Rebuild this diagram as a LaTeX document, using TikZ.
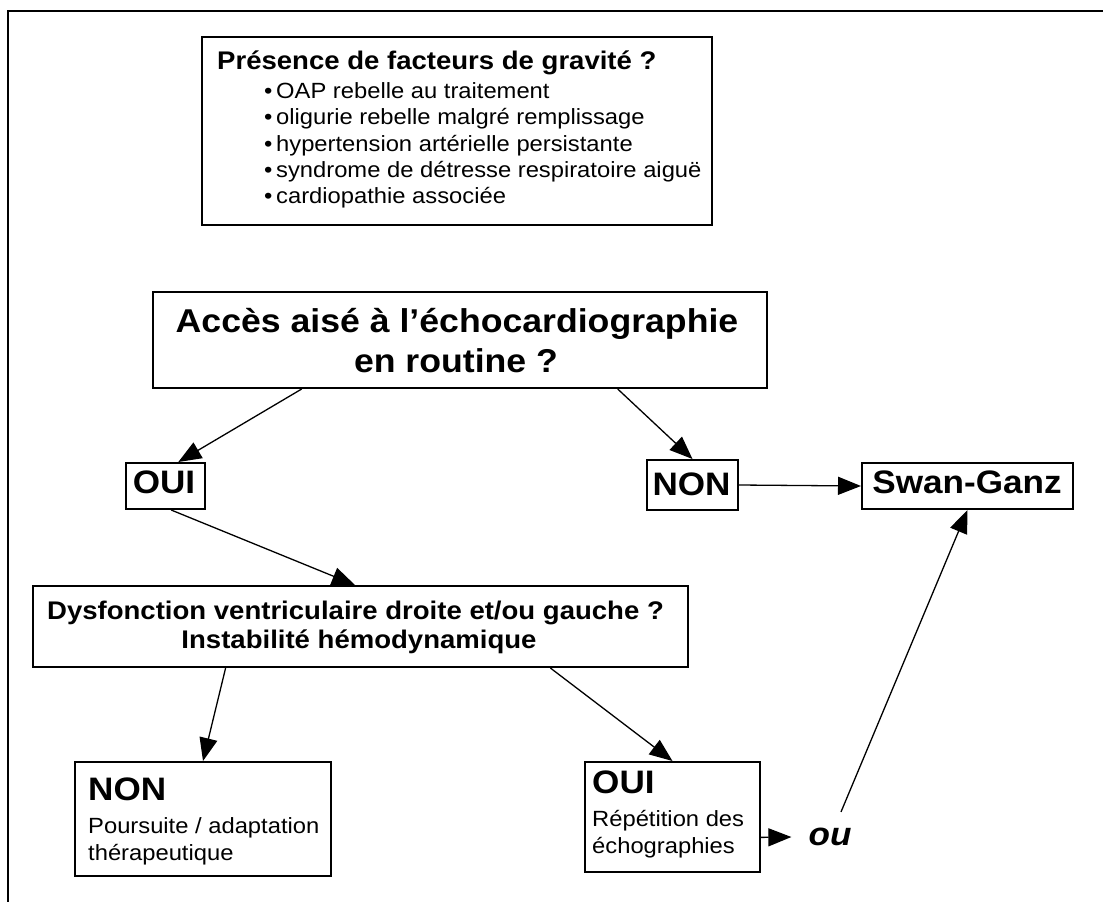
\documentclass[tikz,border=0pt]{standalone}
\usepackage{fontspec}
\setmainfont{Liberation Sans}[FakeStretch=1.08]
\usetikzlibrary{calc,arrows.meta}
\newcommand{\fsz}[1]{\fontsize{#1}{#1}\selectfont}
\tikzset{
  box/.style={draw=black, line width=2pt, fill=white, inner sep=0pt},
  txt/.style={inner sep=0pt, text=black},
  conn/.style={line width=1.3pt, -{Triangle[length=23pt,width=18pt]}},
  big/.style={font=\fsz{33}\bfseries},
  mid/.style={font=\fsz{32.5}\bfseries},
  head/.style={font=\fsz{25.5}\bfseries},
  small/.style={font=\fsz{22}},
}
\newcommand{\bul}{\makebox[12pt][l]{•}}
\begin{document}
\begin{tikzpicture}[x=1pt,y=-1pt]
\useasboundingbox (0,0) rectangle (1103,902);
\fill[white] (0,0) rectangle (1103,902);
\draw[line width=2pt] (1103,11) -- (8,11) -- (8,902);

% top box
\node[box, minimum width=510pt, minimum height=188pt] (top) at (457,131) {};
\node[txt, head, anchor=base west] (title) at (217,69) {Présence de facteurs de gravité ?};
\node[txt, small, anchor=base west] (b1) at (264,98) {\bul OAP rebelle au traitement};
\node[txt, small, anchor=base west] (b2) at (264,124) {\bul oligurie rebelle malgré remplissage};
\node[txt, small, anchor=base west] (b3) at (264,151) {\bul hypertension artérielle persistante};
\node[txt, small, anchor=base west] (b4) at (264,177) {\bul syndrome de détresse respiratoire aiguë};
\node[txt, small, anchor=base west] (b5) at (264,203) {\bul cardiopathie associée};

% acces box
\node[box, minimum width=614pt, minimum height=96pt] (acces) at (460,340) {};
\node[txt, big, anchor=base] (acc1) at (457,332) {Accès aisé à l’échocardiographie};
\node[txt, big, anchor=base] (acc2) at (456,372) {en routine ?};

% OUI / NON / Swan
\node[box, minimum width=79pt, minimum height=46pt] (oui) at (165.5,486) {};
\node[txt, mid, anchor=base] (ouit) at (164,493) {OUI};
\node[box, minimum width=91pt, minimum height=50pt] (non) at (692.5,485) {};
\node[txt, mid, anchor=base] (nont) at (691.5,495) {NON};
\node[box, minimum width=211pt, minimum height=46pt] (swan) at (967.5,486) {};
\node[txt, mid, anchor=base] (swant) at (967,493) {Swan-Ganz};

% Dysfonction box
\node[box, minimum width=655pt, minimum height=81pt] (dysf) at (360.5,626.5) {};
\node[txt, head, anchor=base] (d1) at (355.5,619) {Dysfonction ventriculaire droite et/ou gauche ?};
\node[txt, head, anchor=base] (d2) at (359,648) {Instabilité hémodynamique};

% NON 2
\node[box, minimum width=256pt, minimum height=114pt] (non2) at (203,819) {};
\node[txt, mid, anchor=base west] (n2a) at (88,800) {NON};
\node[txt, small, anchor=base west] (n2b) at (88,833) {Poursuite / adaptation};
\node[txt, small, anchor=base west] (n2c) at (88,860) {thérapeutique};

% OUI 2
\node[box, minimum width=175pt, minimum height=110pt] (oui2) at (672.5,817) {};
\node[txt, mid, anchor=base west] (o2a) at (592,793) {OUI};
\node[txt, small, anchor=base west] (o2b) at (592,826) {Répétition des};
\node[txt, small, anchor=base west] (o2c) at (592,853) {échographies};

% ou
\node[inner xsep=17pt, inner ysep=0pt, font=\fsz{32.5}\bfseries\itshape] (ou) at (830,837) {ou};
\coordinate (oustart) at ($(ou.north)+(11,-16)$);

% connectors
\draw[conn] ($(acces.south west)!0.243!(acces.south east)$) -- ($(oui.north west)!0.658!(oui.north east)$);
\draw[conn] ($(acces.south west)!0.756!(acces.south east)$) -- (non.north);
\draw[conn] (non.east) -- (swan.west);
\draw[conn] ($(oui.south west)!0.57!(oui.south east)$) -- ($(dysf.north west)!0.4916!(dysf.north east)$);
\draw[conn] ($(dysf.south west)!0.2947!(dysf.south east)$) -- (non2.north);
\draw[conn] ($(dysf.south west)!0.789!(dysf.south east)$) -- (oui2.north);
\draw[conn] ($(oui2.south east)!0.318!(oui2.north east)$) -- (ou.west);
\draw[conn] (oustart) -- (swan.south);
\end{tikzpicture}
\end{document}
